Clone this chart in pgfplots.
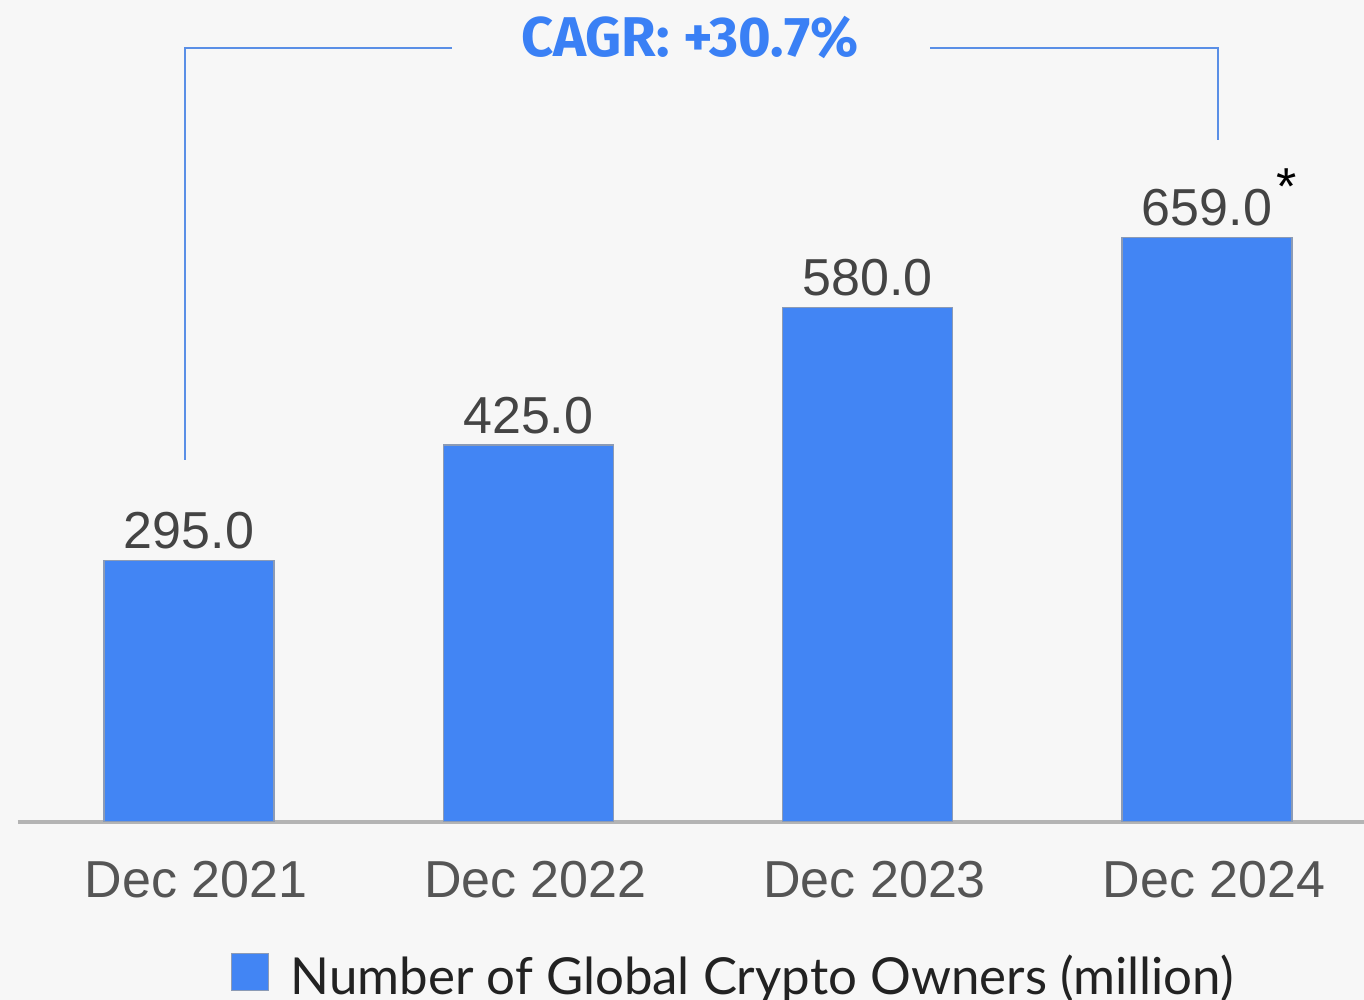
\documentclass[border=0pt]{standalone}
\usepackage{fontspec}
\setmainfont{Liberation Sans}
\newfontfamily\legfont{Lato}
\newfontfamily\titlefont{Fira Sans}
\usepackage{pgfplots}
\pgfplotsset{compat=1.18}
\definecolor{bg}{HTML}{F7F7F7}
\definecolor{barblue}{HTML}{4285F4}
\definecolor{bargray}{HTML}{8C9BB5}
\definecolor{titleblue}{HTML}{3A80F5}
\definecolor{brackblue}{HTML}{5A8FE6}
\definecolor{valgray}{HTML}{444444}
\definecolor{tickgray}{HTML}{555555}
\definecolor{linegray}{HTML}{B4B4B4}
\definecolor{legtext}{HTML}{222222}
\begin{document}
\begin{tikzpicture}
\useasboundingbox (0,0) rectangle (682pt,500pt);
\fill[bg] (0,0) rectangle (682pt,500pt);
\begin{axis}[
  at={(9pt,89pt)}, anchor=south west,
  scale only axis,
  x=169.65pt, y=0.4435pt,
  xmin=-0.504, xmax=3.463, ymin=0, ymax=926,
  axis x line*=bottom, axis y line=none,
  x axis line style={draw=linegray, line width=2pt, -},
  ytick=\empty,
  xtick={0,1,2,3},
  xticklabels={Dec 2021,Dec 2022,Dec 2023,Dec 2024},
  major tick length=0pt,
  xtick style={draw=none},
  xticklabel style={font=\fontsize{26}{30}\selectfont, text=tickgray, anchor=base, yshift=-38pt, xshift=3.5pt, inner sep=0pt},
  ybar, bar width=85pt,
  nodes near coords,
  /pgf/number format/assume math mode=true,
  /pgf/number format/.cd, fixed, fixed zerofill, precision=1, 1000 sep={},
  /pgfplots/.cd,
  nodes near coords style={font=\fontsize{26}{30}\selectfont, text=valgray, anchor=base, yshift=6pt, inner sep=0pt},
  legend style={at={(0.158,-0.2184)}, anchor=south west, draw=none, fill=none, inner sep=0pt, outer sep=0pt,
     font=\legfont\fontsize{25.5}{30}\selectfont, text=legtext,
     /tikz/every odd column/.append style={column sep=9pt}},
  legend image code/.code={\draw[fill=barblue, draw=bargray, line width=0.5pt] (0pt,-7pt) rectangle (18.5pt,11.5pt);},
]
\addplot[fill=barblue, draw=bargray, line width=0.6pt] coordinates {(0,295) (1,425) (2,580) (3,659)};
\addlegendentry{Number of Global Crypto Owners (million)}
\node[anchor=base, inner sep=0pt, font=\fontsize{26}{30}\selectfont, text=black] at (axis cs:3,659) [xshift=40pt, yshift=16.5pt] {*};
\end{axis}
\node[anchor=base, inner sep=0pt, text=titleblue, font=\titlefont\bfseries\fontsize{28}{32}\selectfont] at (345pt,471.5pt) {CAGR: +30.7\%};
\draw[brackblue, line width=1pt] (92.5pt,270pt) -- (92.5pt,476pt) -- (226pt,476pt);
\draw[brackblue, line width=1pt] (465pt,476pt) -- (609pt,476pt) -- (609pt,430pt);
\end{tikzpicture}
\end{document}
